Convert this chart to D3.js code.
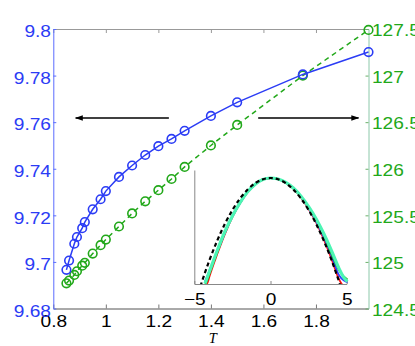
<!DOCTYPE html>
<html>
<head>
<meta charset="utf-8">
<script src="https://cdn.jsdelivr.net/npm/d3@7"></script>
<style>
body { margin: 0; background: #fff; }
text { font-family: "Liberation Sans", Arial, sans-serif; }
</style>
</head>
<body>
<div id="chart"></div>
<script>
// main data (T on x, left axis blue, right axis green)
var temps = [0.85, 0.86, 0.88, 0.89, 0.91, 0.92, 0.95, 0.98, 1.0, 1.05, 1.1, 1.15, 1.2, 1.25, 1.3, 1.4, 1.5, 1.75, 2.0];
var leftVals = [9.6966, 9.7006, 9.7078, 9.7107, 9.7145, 9.7171, 9.7226, 9.7269, 9.7304, 9.7365, 9.7414, 9.7459, 9.7497, 9.7528, 9.7563, 9.7627, 9.7685, 9.7805, 9.7901];
var rightVals = [124.77, 124.80, 124.86, 124.90, 124.96, 124.99, 125.09, 125.18, 125.24, 125.38, 125.52, 125.65, 125.77, 125.89, 126.02, 126.25, 126.47, 127.0, 127.49];

var xTicks = [0.8, 1, 1.2, 1.4, 1.6, 1.8];
var leftTicks = [9.68, 9.7, 9.72, 9.74, 9.76, 9.78, 9.8];
var rightTicks = [124.5, 125, 125.5, 126, 126.5, 127, 127.5];

// inset data
var insetX = [-4.6, -4.3, -4, -3.5, -3, -2.5, -2, -1.5, -1, -0.5, 0, 0.5, 1, 1.5, 2, 2.5, 3, 3.5, 4, 4.3, 4.55];
var insetRef = [-10.58, -9.25, -8, -6.13, -4.5, -3.13, -2, -1.13, -0.5, -0.13, 0, -0.13, -0.5, -1.13, -2, -3.13, -4.5, -6.13, -8, -9.25, -10.35];
var insetXc = [-4.3, -4.1, -4, -3.5, -3, -2.5, -2, -1.5, -1, -0.5, 0, 0.5, 1, 1.5, 2, 2.5, 3, 3.5, 4, 4.5, 4.8, 5.05];
var cyanVals = [-10.3, -9.5, -9.1, -7.1, -5.25, -3.7, -2.4, -1.35, -0.6, -0.15, 0, -0.1, -0.42, -0.98, -1.78, -2.8, -4.0, -5.45, -7.1, -8.85, -9.7, -10.1];
var greenVals = [-10.45, -9.8, -9.35, -7.3, -5.35, -3.75, -2.42, -1.36, -0.6, -0.15, 0, -0.11, -0.44, -1.0, -1.82, -2.86, -4.1, -5.6, -7.4, -9.0, -9.6, -9.9];
var blueVals = [-10.1, -9.4, -9.0, -7.25, -5.4, -3.78, -2.45, -1.37, -0.61, -0.15, 0, -0.11, -0.45, -1.02, -1.85, -2.95, -4.25, -5.8, -7.6, -9.5, -10.0, -10.2];
var redVals = [-10.6, -10.1, -9.6, -7.45, -5.5, -3.82, -2.47, -1.38, -0.62, -0.16, 0, -0.12, -0.46, -1.04, -1.92, -3.02, -4.35, -6.0, -7.9, -9.9, -10.6, -10.9];
var insetTicks = [-5, 0, 5];

var W = 415, H = 346;
var margin = {top: 29, right: 46.5, bottom: 37.5, left: 53.3};
var fs = 16.5, stretch = "scale(1.16,1)";

var svg = d3.select("#chart").append("svg")
    .attr("width", W)
    .attr("height", H);

var x = d3.scaleLinear().domain([0.8, 2.0]).range([margin.left, W - margin.right]);
var yL = d3.scaleLinear().domain([9.68, 9.8]).range([H - margin.bottom, margin.top]);
var yR = d3.scaleLinear().domain([124.5, 127.5]).range([H - margin.bottom, margin.top]);

var blue = "#2b3cf5", green = "#22a81a";

// axes
var bottomAx = svg.append("g").attr("transform", "translate(0," + yL.range()[0] + ")")
    .call(d3.axisBottom(x).tickValues(xTicks).tickSizeInner(-4).tickSizeOuter(0).tickPadding(7).tickFormat(d3.format("")));
bottomAx.select(".domain").attr("stroke", "#555");
bottomAx.selectAll(".tick line").attr("stroke", "#777");
bottomAx.selectAll("text").attr("font-size", fs).attr("fill", "#000").attr("transform", stretch);

var topAx = svg.append("g").attr("transform", "translate(0," + yL.range()[1] + ")")
    .call(d3.axisTop(x).tickValues(xTicks).tickSizeInner(-4).tickSizeOuter(0).tickFormat(""));
topAx.select(".domain").attr("stroke", "#999");
topAx.selectAll(".tick line").attr("stroke", "#999");

var leftAx = svg.append("g").attr("transform", "translate(" + margin.left + ",0)")
    .call(d3.axisLeft(yL).tickValues(leftTicks).tickSizeInner(-3).tickSizeOuter(0).tickPadding(2).tickFormat(d3.format("")));
leftAx.select(".domain").attr("stroke", "#5a6cff");
leftAx.selectAll(".tick line").attr("stroke", "#5a6cff");
leftAx.selectAll("text").attr("font-size", fs).attr("fill", blue).attr("dy", "0.47em").attr("transform", stretch);

var rightAx = svg.append("g").attr("transform", "translate(" + x.range()[1] + ",0)")
    .call(d3.axisRight(yR).tickValues(rightTicks).tickSizeInner(-3).tickSizeOuter(0).tickPadding(3).tickFormat(d3.format("")));
rightAx.select(".domain").attr("stroke", "#8cc8aa");
rightAx.selectAll(".tick line").attr("stroke", "#6ab06a");
rightAx.selectAll("text").attr("font-size", fs).attr("fill", green).attr("dy", "0.41em").attr("transform", stretch);

svg.append("text")
    .attr("x", (x.range()[0] + x.range()[1]) / 2 + 2)
    .attr("y", 343)
    .attr("text-anchor", "middle")
    .style("font-family", "'Liberation Serif', 'Times New Roman', serif")
    .style("font-style", "italic")
    .attr("font-size", 14.5)
    .text("T");

// arrows
var defs = svg.append("defs");
defs.append("marker").attr("id", "head")
    .attr("viewBox", "0 0 10 10").attr("refX", 9).attr("refY", 5)
    .attr("markerWidth", 8).attr("markerHeight", 8).attr("orient", "auto-start-reverse")
    .attr("markerUnits", "userSpaceOnUse")
    .append("path").attr("d", "M0,1.5 L10,5 L0,8.5 Z").attr("fill", "#000");

var arrows = [
    {from: 1.24, to: 0.885, y: 9.7618},
    {from: 1.58, to: 1.962, y: 9.7618}
];
svg.selectAll(".arrow").data(arrows).enter().append("line")
    .attr("class", "arrow")
    .attr("x1", function(d){ return x(d.from); })
    .attr("x2", function(d){ return x(d.to); })
    .attr("y1", function(d){ return yL(d.y); })
    .attr("y2", function(d){ return yL(d.y); })
    .attr("stroke", "#000").attr("stroke-width", 1.6)
    .attr("marker-end", "url(#head)");

// series
var idx = d3.range(temps.length);
var lineL = d3.line().x(function(i){ return x(temps[i]); }).y(function(i){ return yL(leftVals[i]); });
var lineR = d3.line().x(function(i){ return x(temps[i]); }).y(function(i){ return yR(rightVals[i]); });

svg.append("path").datum(idx).attr("d", lineR)
    .attr("fill", "none").attr("stroke", green).attr("stroke-width", 1.5).attr("stroke-dasharray", "5,4");
svg.selectAll(".gdot").data(idx).enter().append("circle").attr("class", "gdot")
    .attr("cx", function(i){ return x(temps[i]); })
    .attr("cy", function(i){ return yR(rightVals[i]); })
    .attr("r", 4.3).attr("fill", "none").attr("stroke", green).attr("stroke-width", 1.6);

svg.append("path").datum(idx).attr("d", lineL)
    .attr("fill", "none").attr("stroke", blue).attr("stroke-width", 1.5);
svg.selectAll(".bdot").data(idx).enter().append("circle").attr("class", "bdot")
    .attr("cx", function(i){ return x(temps[i]); })
    .attr("cy", function(i){ return yL(leftVals[i]); })
    .attr("r", 4.3).attr("fill", "none").attr("stroke", blue).attr("stroke-width", 1.6);

// inset
var ix = d3.scaleLinear().domain([-5, 5]).range([194.3, 346.7]);
var iy = d3.scaleLinear().domain([-10.35, 0.78]).range([284, 170]);

var inset = svg.append("g");
var insetBottom = inset.append("g").attr("transform", "translate(0," + iy.range()[0] + ")")
    .call(d3.axisBottom(ix).tickValues(insetTicks).tickSizeInner(-3).tickSizeOuter(0).tickPadding(9)
        .tickFormat(function(d){ return d < 0 ? "\u2212" + Math.abs(d) : d; }));
insetBottom.select(".domain").attr("stroke", "#888");
insetBottom.selectAll(".tick line").attr("stroke", "#888");
insetBottom.selectAll("text").attr("font-size", fs).attr("fill", "#000").attr("transform", stretch);
inset.append("g").attr("transform", "translate(" + ix.range()[0] + ",0)")
    .call(d3.axisLeft(iy).tickValues([]).tickSizeOuter(0))
    .select(".domain").attr("stroke", "#888");

inset.append("clipPath").attr("id", "iclip").append("rect")
    .attr("x", ix(-5.3)).attr("y", iy.range()[1]).attr("width", ix(5.4) - ix(-5.3)).attr("height", iy.range()[0] - iy.range()[1]);

// thin curves first, the wide cyan band over them, the dashed reference on top
var curves = [
    {vals: redVals, color: "#ff1010", w: 1.8},
    {vals: blueVals, color: "#3040ff", w: 1.8},
    {vals: greenVals, color: "#10b010", w: 1.8},
    {vals: cyanVals, color: "#4cf5b4", w: 3.2}
];
var cIdx = d3.range(insetXc.length);
var curveG = inset.append("g").attr("clip-path", "url(#iclip)");
curves.forEach(function(c) {
    curveG.append("path").datum(cIdx)
        .attr("d", d3.line().curve(d3.curveMonotoneX).x(function(i){ return ix(insetXc[i]); }).y(function(i){ return iy(c.vals[i]); }))
        .attr("fill", "none").attr("stroke", c.color).attr("stroke-width", c.w);
});
curveG.append("path").datum(d3.range(insetX.length))
    .attr("d", d3.line().curve(d3.curveMonotoneX).x(function(i){ return ix(insetX[i]); }).y(function(i){ return iy(insetRef[i]); }))
    .attr("fill", "none").attr("stroke", "#000").attr("stroke-width", 2.2).attr("stroke-dasharray", "4,3");
</script>
</body>
</html>
